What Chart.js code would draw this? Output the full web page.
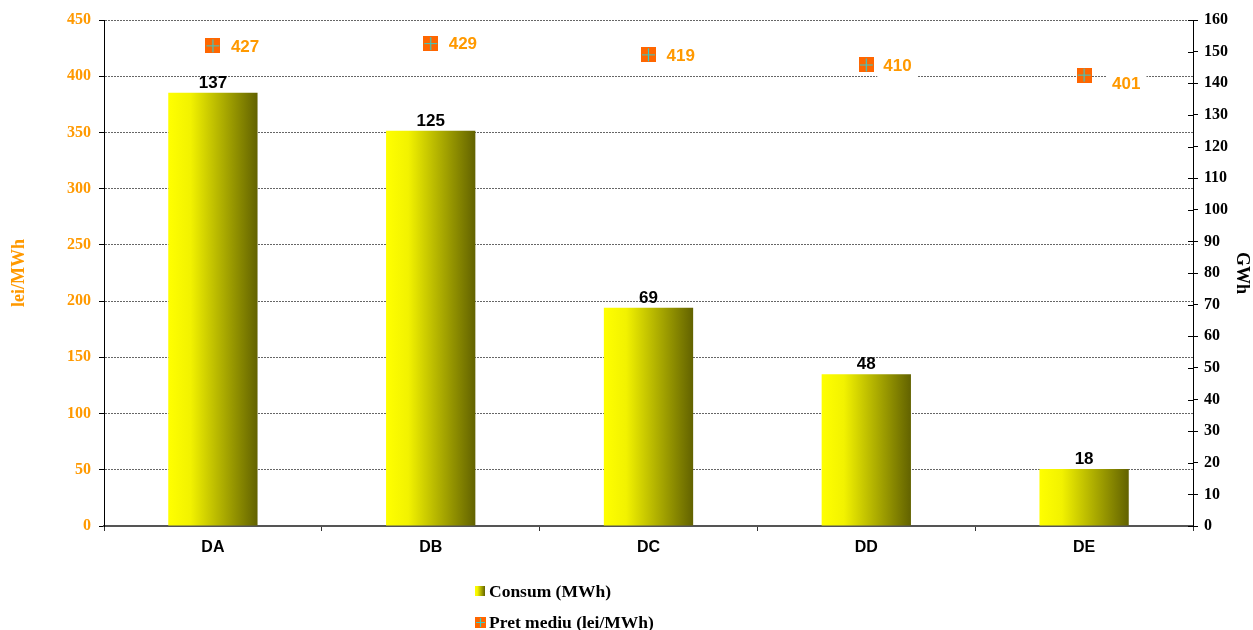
<!DOCTYPE html>
<html>
<head>
<meta charset="utf-8">
<script src="https://cdn.jsdelivr.net/npm/chart.js@4.4.1/dist/chart.umd.min.js"></script>
<style>
  html, body { margin: 0; padding: 0; background: #fff; }
  #wrap { width: 1253px; height: 630px; }
</style>
</head>
<body>
<div id="wrap"><canvas id="chart" width="1253" height="630"></canvas></div>
<script>
// data
const categories = ['DA', 'DB', 'DC', 'DD', 'DE'];
const consumGWh = [137, 125, 69, 48, 18];
const pretMediu = [427, 429, 419, 410, 401];
const seriesNames = ['Consum (MWh)', 'Pret mediu (lei/MWh)'];

const ORANGE = '#ff9900';
const SERIF = '"Liberation Serif", "Times New Roman", serif';
const SANS = '"Liberation Sans", Arial, sans-serif';

// orange square with teal cross, like the excel marker
function makeMarker(size) {
    const c = document.createElement('canvas');
    c.width = size; c.height = size;
    const g = c.getContext('2d');
    g.fillStyle = '#ff6600';
    g.fillRect(0, 0, size, size);
    g.strokeStyle = '#33cccc';
    g.lineWidth = 1.2;
    const m = Math.floor(size / 2) + 0.5;
    g.beginPath();
    g.moveTo(1, m); g.lineTo(size - 1, m);
    g.moveTo(m, 1); g.lineTo(m, size - 1);
    g.stroke();
    return c;
}
const marker = makeMarker(15);
const legendMarker = makeMarker(11);

function barGradient(g, x0, x1) {
    const grad = g.createLinearGradient(x0, 0, x1, 0);
    grad.addColorStop(0, '#ffff00');
    grad.addColorStop(0.25, '#f2f200');
    grad.addColorStop(1, '#626200');
    return grad;
}

const BAR_PCT = 0.41;

const labelsPlugin = {
    id: 'labels',
    afterDatasetsDraw(chart) {
        const g = chart.ctx;
        g.save();
        // bar values
        g.font = 'bold 17px ' + SANS;
        g.fillStyle = '#000';
        g.textAlign = 'center';
        g.textBaseline = 'bottom';
        chart.getDatasetMeta(0).data.forEach((el, i) => {
            g.fillText(String(consumGWh[i]), el.x, el.y - 1);
        });
        // price values, with white box behind
        const offs = [[18, 0], [18, 0], [18, 0], [17, 0], [28, 8]];
        g.textAlign = 'left';
        g.textBaseline = 'middle';
        chart.getDatasetMeta(1).data.forEach((el, i) => {
            const t = String(pretMediu[i]);
            const x = el.x + offs[i][0], y = el.y + offs[i][1] + 1;
            const w = g.measureText(t).width;
            g.fillStyle = '#fff';
            g.fillRect(x - 6, y - 12, w + 12, 25);
            g.fillStyle = ORANGE;
            g.fillText(t, x, y);
        });
        g.restore();
    },
    afterDraw(chart) {
        const g = chart.ctx;
        const yR = chart.scales.yR;
        g.save();
        // inner tick marks on the right axis
        g.strokeStyle = '#000';
        g.lineWidth = 1;
        yR.ticks.forEach(t => {
            const y = Math.round(yR.getPixelForValue(t.value)) + 0.5;
            g.beginPath();
            g.moveTo(yR.left - 5, y);
            g.lineTo(yR.left, y);
            g.stroke();
        });
        // legend, stacked vertically
        g.font = 'bold 17.5px ' + SERIF;
        g.textBaseline = 'middle';
        g.textAlign = 'left';
        const lx = 475;
        g.fillStyle = barGradient(g, lx, lx + 10);
        g.fillRect(lx, 586, 10, 10);
        g.fillStyle = '#000';
        g.fillText(seriesNames[0], lx + 14, 592);
        g.drawImage(legendMarker, lx, 617);
        g.fillText(seriesNames[1], lx + 14, 623);
        g.restore();
    }
};

new Chart(document.getElementById('chart').getContext('2d'), {
    data: {
        labels: categories,
        datasets: [
            {
                type: 'bar',
                label: seriesNames[0],
                data: consumGWh,
                yAxisID: 'yR',
                order: 2,
                categoryPercentage: 1,
                barPercentage: BAR_PCT,
                backgroundColor: ctx => {
                    const chart = ctx.chart;
                    const x = chart.scales.x;
                    if (!chart.chartArea || !x) return '#ffff00';
                    const c = x.getPixelForValue(ctx.dataIndex);
                    const w = (x.width / categories.length) * BAR_PCT;
                    return barGradient(chart.ctx, c - w / 2, c + w / 2);
                },
                borderWidth: 0
            },
            {
                type: 'line',
                label: seriesNames[1],
                data: pretMediu,
                yAxisID: 'y',
                order: 1,
                showLine: false,
                pointStyle: marker,
                pointRadius: 8
            }
        ]
    },
    options: {
        responsive: false,
        animation: false,
        layout: { padding: { top: 20, left: 0, right: 0, bottom: 0 } },
        scales: {
            x: {
                offset: true,
                afterFit: s => { s.height = 104; },
                grid: {
                    offset: true,
                    drawOnChartArea: false,
                    drawTicks: true,
                    tickLength: 5,
                    tickColor: '#333',
                    tickWidth: 1
                },
                border: { display: true, color: '#555', width: 2 },
                ticks: {
                    color: '#000',
                    font: { family: SANS, weight: 'bold', size: 16 },
                    padding: 7
                }
            },
            y: {
                position: 'left',
                min: 0,
                max: 450,
                afterFit: s => { s.width = 104; },
                ticks: {
                    stepSize: 50,
                    color: ORANGE,
                    font: { family: SERIF, weight: 'bold', size: 16 },
                    padding: 8
                },
                grid: {
                    color: '#666',
                    lineWidth: 1,
                    tickColor: '#000',
                    tickLength: 5,
                    tickBorderDash: []
                },
                border: { display: true, color: '#000', width: 1, dash: [2, 1] },
                title: {
                    display: true,
                    text: 'lei/MWh',
                    color: ORANGE,
                    font: { family: SERIF, weight: 'bold', size: 18 },
                    padding: { top: 9, bottom: 0 }
                }
            },
            yR: {
                position: 'right',
                min: 0,
                max: 160,
                afterFit: s => { s.width = 60; },
                ticks: {
                    stepSize: 10,
                    color: '#000',
                    font: { family: SERIF, weight: 'bold', size: 16 },
                    padding: 6
                },
                grid: {
                    drawOnChartArea: false,
                    tickColor: '#000',
                    tickLength: 5
                },
                border: { display: true, color: '#000', width: 1 },
                title: {
                    display: true,
                    text: 'GWh',
                    color: '#000',
                    font: { family: SERIF, weight: 'bold', size: 18 },
                    padding: { top: 1, bottom: 0 }
                }
            }
        },
        plugins: {
            legend: { display: false },
            tooltip: { enabled: false }
        }
    },
    plugins: [labelsPlugin]
});
</script>
</body>
</html>
